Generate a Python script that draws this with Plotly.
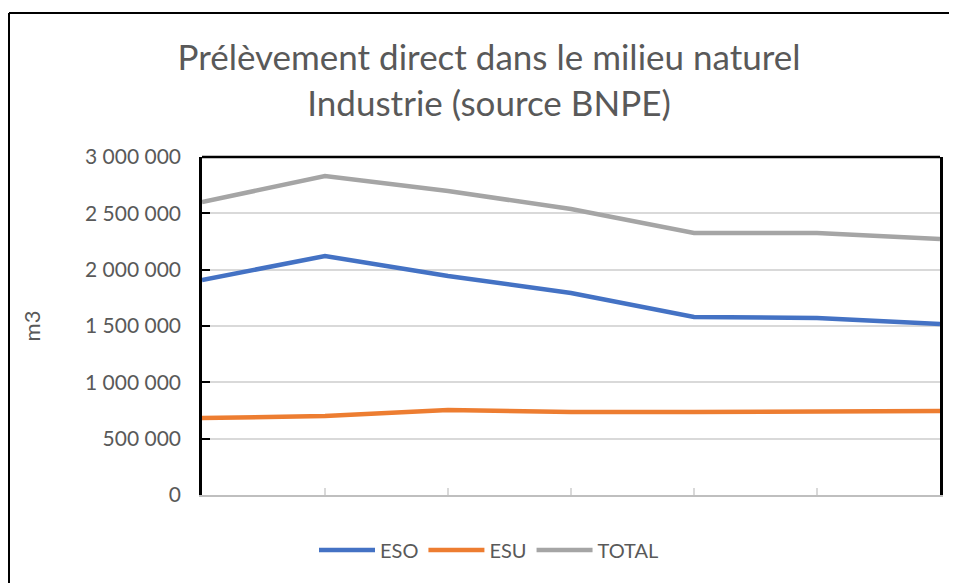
import plotly.graph_objects as go

points = [1, 2, 3, 4, 5, 6, 7]
tick_labels = ["", "", "", "", "", "", ""]
eso = [1908000, 2121000, 1944000, 1793000, 1580000, 1571000, 1518000]
esu = [683000, 701000, 754000, 737000, 737000, 746000, 746000]
total = [2600000, 2831000, 2698000, 2538000, 2325000, 2325000, 2272000]
y_ticks = [0, 500000, 1000000, 1500000, 2000000, 2500000, 3000000]

series = [("ESO", eso, "#4472C4"), ("ESU", esu, "#ED7D31"), ("TOTAL", total, "#A5A5A5")]

FONT = "Lato"
TXT = "#595959"

# page body has an 8px margin: figure coords = window coords - 8
W, H = 949, 575
PL, PR, PT, PB = 194, 932, 149, 487
PW, PH = PR - PL, PB - PT

fig = go.Figure()
for name, vals, col in series:
    fig.add_trace(go.Scatter(x=points, y=vals, name=name, mode="lines",
                             line=dict(color=col, width=4.5)))

fig.update_layout(
    width=W, height=H,
    margin=dict(l=PL, r=W - PR, t=PT, b=H - PB, autoexpand=False),
    paper_bgcolor="white", plot_bgcolor="white",
    separators=", ",
    font=dict(family=FONT, color=TXT),
    title=dict(text="Prélèvement direct dans le milieu naturel<br>Industrie (source BNPE)",
               x=481/W, xanchor="center", xref="container",
               y=1-62/H, yanchor="middle", yref="container",
               font=dict(family=FONT, size=35, color=TXT)),
    showlegend=True,
    legend=dict(orientation="h", x=(481-PL)/PW, xanchor="center",
                y=(PB-542)/PH, yanchor="middle",
                font=dict(family=FONT, size=20, color=TXT),
                itemwidth=56, tracegroupgap=0, bgcolor="rgba(0,0,0,0)"),
    xaxis=dict(range=[1, 7], tickmode="array", tickvals=points, ticktext=tick_labels,
               showticklabels=False, showgrid=False, zeroline=False,
               showline=True, linecolor="#BFBFBF", linewidth=2,
               ticks="inside", ticklen=7, tickcolor="#D9D9D9", tickwidth=2),
    yaxis=dict(range=[0, 3000000], tickmode="array", tickvals=y_ticks,
               tickformat=",d", showgrid=True, gridcolor="#D9D9D9", gridwidth=1.5,
               zeroline=False, showline=True, linecolor="black", linewidth=2.5,
               mirror=True, ticks="inside", ticklen=8, tickcolor="black", tickwidth=2,
               ticklabelstandoff=14,
               tickfont=dict(family=FONT, size=21, color=TXT),
               title=dict(text="m3", standoff=39, font=dict(family=FONT, size=22, color=TXT))),
    shapes=[
        dict(type="line", xref="paper", yref="paper", x0=0, x1=1, y0=1, y1=1,
             line=dict(color="black", width=2.5)),
        # outer chart border: left and top edges (right/bottom lie outside the view)
        dict(type="line", xref="paper", yref="paper",
             x0=(1-PL)/PW, x1=(1-PL)/PW, y0=-2, y1=1+(PT-5)/PH,
             line=dict(color="black", width=2)),
        dict(type="line", xref="paper", yref="paper",
             x0=(1-PL)/PW, x1=2, y0=1+(PT-5)/PH, y1=1+(PT-5)/PH,
             line=dict(color="black", width=2)),
    ],
)

fig.write_html("out.html")
